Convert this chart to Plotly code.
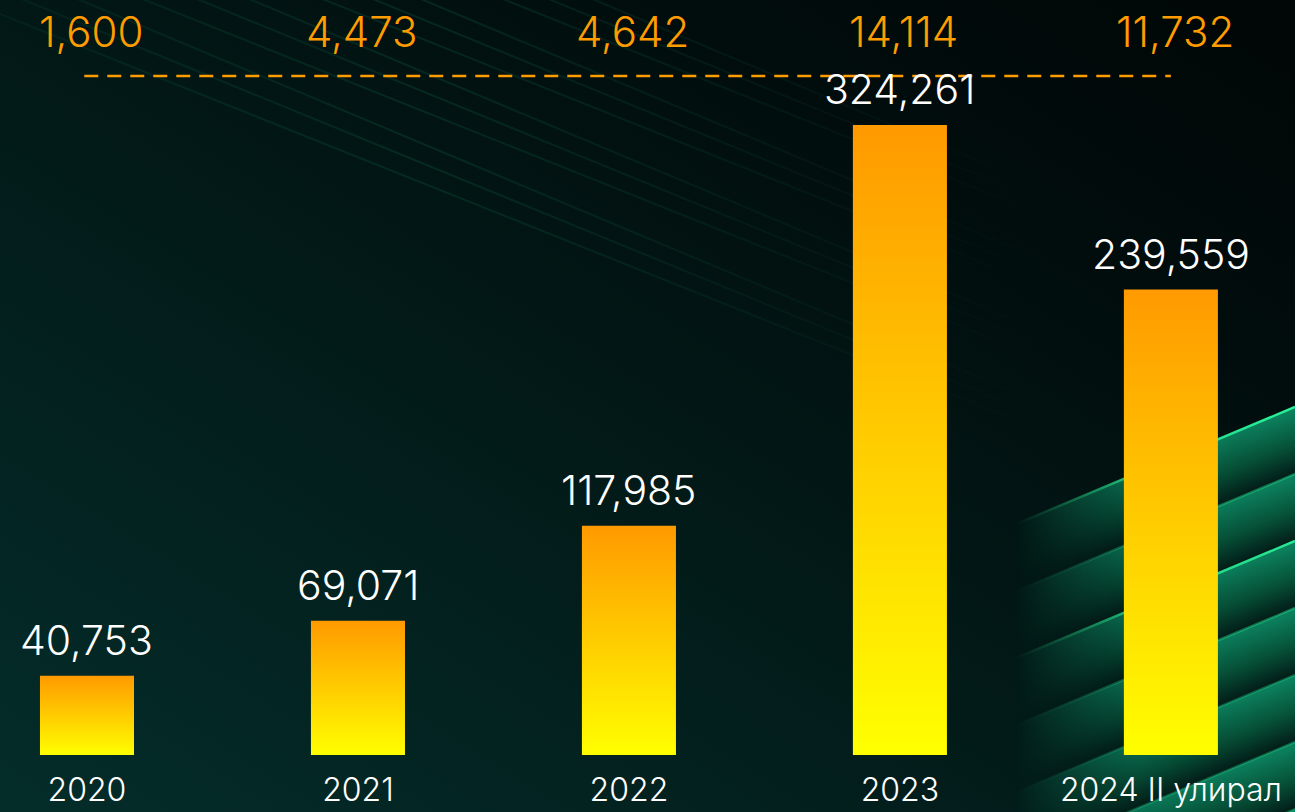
import base64
import plotly.graph_objects as go

# ---------------- data ----------------
categories = ["2020", "2021", "2022", "2023", "2024 II улирал"]
bar_values = [40753, 69071, 117985, 324261, 239559]
top_values = [1600, 4473, 4642, 14114, 11732]

# ---------------- styling ----------------
W, H = 1295, 812
PLOT_H = 755
FONT = "Inter"
ORANGE = "#FF9C00"
BAR_W = 0.347
X_RANGE = [-0.321, 4.458]
Y_MAX = 388600

# ---------------- background (svg) ----------------
def background_svg():
    parts = []
    parts.append(f'<svg xmlns="http://www.w3.org/2000/svg" width="{W}" height="{H}" viewBox="0 0 {W} {H}" preserveAspectRatio="none">')
    parts.append('<defs>')
    parts.append('<linearGradient id="bg" x1="0" y1="1" x2="1" y2="0">'
                 '<stop offset="0" stop-color="#042d2a"/>'
                 '<stop offset="0.45" stop-color="#021a18"/>'
                 '<stop offset="0.75" stop-color="#010d0d"/>'
                 '<stop offset="1" stop-color="#010606"/></linearGradient>')
    parts.append('<linearGradient id="lnfade" gradientUnits="userSpaceOnUse" x1="0" y1="0" x2="1050" y2="0">'
                 '<stop offset="0" stop-color="#0f5a44" stop-opacity="0.15"/>'
                 '<stop offset="0.4" stop-color="#0f5a44" stop-opacity="0.3"/>'
                 '<stop offset="1" stop-color="#0f5a44" stop-opacity="0"/></linearGradient>')
    parts.append('<linearGradient id="fadeX" gradientUnits="userSpaceOnUse" x1="1015" y1="0" x2="1295" y2="0">'
                 '<stop offset="0" stop-color="#fff" stop-opacity="0"/>'
                 '<stop offset="0.45" stop-color="#fff" stop-opacity="0.85"/>'
                 '<stop offset="1" stop-color="#fff" stop-opacity="1"/></linearGradient>')
    parts.append(f'<mask id="m"><rect x="0" y="0" width="{W}" height="{H}" fill="url(#fadeX)"/></mask>')
    slope = 0.42
    step = 67
    edge_op = [1.0, 0.4, 0.95, 0.4, 0.3, 0.3, 0.25]
    for k in range(7):
        yk = 407 + step * k
        parts.append(f'<linearGradient id="s{k}" gradientUnits="userSpaceOnUse" x1="1295" y1="{yk}" x2="{1295+24}" y2="{yk+57}">'
                     '<stop offset="0" stop-color="#0c8560"/>'
                     '<stop offset="0.55" stop-color="#065238"/>'
                     '<stop offset="1" stop-color="#021c17"/></linearGradient>')
    parts.append('</defs>')
    parts.append(f'<rect x="0" y="0" width="{W}" height="{H}" fill="url(#bg)"/>')
    # faint diagonal lines top-left
    for k in range(12):
        y0 = 14 - 24 * k
        slope_l = 0.40 + 0.01 * (k % 3)
        parts.append(f'<line x1="-20" y1="{y0 - 8}" x2="1050" y2="{y0 + slope_l*1050:.1f}" stroke="url(#lnfade)" stroke-width="2"/>')
    # green stripes bottom right
    parts.append('<g mask="url(#m)">')
    for k in range(7):
        yk = 407 + step * k
        dx = 1295 - 1000
        parts.append(f'<polygon points="1000,{yk + slope*dx:.1f} 1295,{yk} 1295,{yk+step} 1000,{yk+step+slope*dx:.1f}" fill="url(#s{k})"/>')
    for k in range(7):
        yk = 407 + step * k
        dx = 1295 - 1000
        parts.append(f'<line x1="1000" y1="{yk + slope*dx:.1f}" x2="1295" y2="{yk}" stroke="#2af29a" stroke-opacity="{edge_op[k]}" stroke-width="2.5"/>')
    parts.append('</g>')
    parts.append('</svg>')
    return "".join(parts)

svg_uri = "data:image/svg+xml;base64," + base64.b64encode(background_svg().encode("utf-8")).decode("ascii")

fig = go.Figure()

# ---------------- bars (gradient-filled rectangles from the data) ----------------
for i, v in enumerate(bar_values):
    xs = [i - BAR_W / 2, i + BAR_W / 2, i + BAR_W / 2, i - BAR_W / 2, i - BAR_W / 2]
    ys = [0, 0, v, v, 0]
    fig.add_trace(go.Scatter(
        x=xs, y=ys, mode="lines", fill="toself",
        line=dict(width=0, color="rgba(0,0,0,0)"),
        fillgradient=dict(type="vertical",
                          colorscale=[[0, "#FFFF00"], [0.5, "#FFCC00"], [1, "#FF9A00"]]),
        hoverinfo="skip", showlegend=False,
    ))

# value labels above bars
for i, v in enumerate(bar_values):
    fig.add_annotation(x=i, y=v, text=f"{v:,}", showarrow=False, xref="x", yref="y",
                       yanchor="middle", yshift=36,
                       font=dict(family=FONT, size=41, color="#FFFFFF", weight=300))

# top orange numbers
for i, v in enumerate(top_values):
    fig.add_annotation(x=i, y=1 - 32 / PLOT_H, text=f"{v:,}", showarrow=False, xref="x", yref="paper",
                       yanchor="middle", xshift=4,
                       font=dict(family=FONT, size=42, color=ORANGE, weight=300))

# dashed separator line
fig.add_shape(type="line", xref="x", yref="paper", x0=-0.01, x1=4.0,
              y0=1 - 76 / PLOT_H, y1=1 - 76 / PLOT_H,
              line=dict(color=ORANGE, width=2.5, dash="14px,9px"))

fig.add_layout_image(dict(source=svg_uri, xref="paper", yref="paper", x=0, y=1,
                          sizex=1, sizey=H / PLOT_H, sizing="stretch", layer="below",
                          xanchor="left", yanchor="top"))

fig.update_layout(
    width=W, height=H,
    margin=dict(l=0, r=0, t=0, b=H - PLOT_H, pad=0, autoexpand=False),
    paper_bgcolor="#021816", plot_bgcolor="rgba(0,0,0,0)",
    showlegend=False,
    xaxis=dict(range=X_RANGE, tickmode="array", tickvals=list(range(len(categories))),
               ticktext=categories, showgrid=False, zeroline=False, showline=False,
               ticks="", ticklabelstandoff=13, automargin=False,
               tickfont=dict(family=FONT, size=32, color="#FFFFFF", weight=300),
               fixedrange=True),
    yaxis=dict(range=[0, Y_MAX], visible=False, fixedrange=True, automargin=False),
)

fig.write_html("out.html",
               config={"displayModeBar": False},
               post_script="document.body.style.margin='0';document.body.style.overflow='hidden';")
